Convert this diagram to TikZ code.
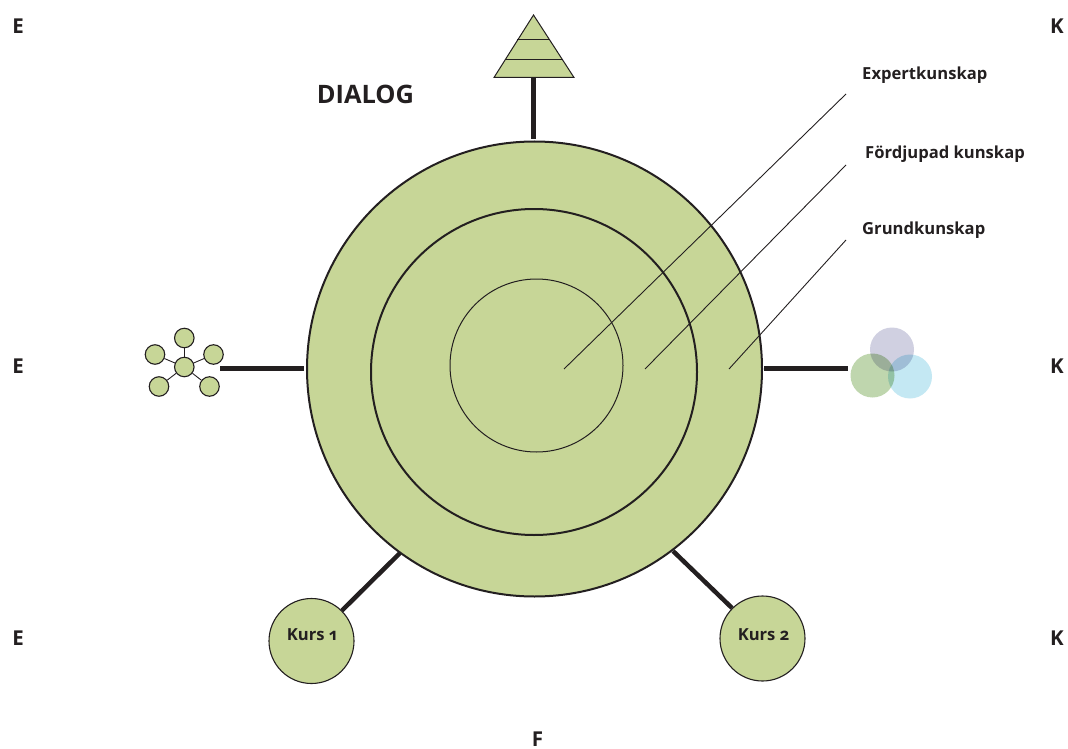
\documentclass[tikz,border=0pt]{standalone}
\usepackage{fontspec}
\setmainfont{Open Sans}[Numbers=OldStyle]
\definecolor{leaf}{HTML}{C7D697}
\definecolor{ink}{HTML}{231F20}
\definecolor{lilac}{HTML}{D0D0E1}
\definecolor{sage}{HTML}{BFD6AE}
\definecolor{sky}{HTML}{C4E8F3}
\tikzset{
  x=1pt,y=-1pt,
  ring/.style={circle,draw=ink,fill=leaf,inner sep=0pt,line width=#1},
  ring/.default=2pt,
  post/.style={draw=ink,line width=4.5pt},
  leader/.style={draw=ink,line width=0.9pt},
  thin link/.style={draw=ink,line width=0.9pt},
  minor/.style={ring=1.1pt,minimum size=19.5pt},
  blob/.style={circle,inner sep=0pt,minimum size=44pt,fill=#1},
  corner/.style={font=\bfseries\fontsize{20.5}{24}\selectfont,text=ink,inner sep=0pt},
  caption/.style={font=\bfseries\fontsize{16.6}{20}\selectfont,text=ink,inner sep=0pt,anchor=west},
  course/.style={ring=1.1pt,minimum size=85pt},
  courselabel/.style={text=ink,font=\bfseries\fontsize{16.6}{20}\selectfont,inner sep=0pt},
}
\begin{document}
\begin{tikzpicture}
\useasboundingbox (0,0) rectangle (1068,749);
% pyramid
\coordinate (apex) at (533.5,15);
\coordinate (baseL) at (494,77.5);
\coordinate (baseR) at (574,77.5);
\coordinate (postTop) at (533.5,78);
\coordinate (postBot) at (533.5,139);
\coordinate (tier1L) at (517,40); \coordinate (tier1R) at (549,40);
\coordinate (tier2L) at (505,60); \coordinate (tier2R) at (562,60);
\draw[fill=leaf,draw=ink,line width=1pt,line join=miter] (apex) -- (baseL) -- (baseR) -- cycle;
\draw[draw=ink,line width=1pt] (tier1L) -- (tier1R);
\draw[draw=ink,line width=1pt] (tier2L) -- (tier2R);
\draw[post] (postTop) -- (postBot);
% rings
\node[ring,minimum size=455pt] (outer) at (534.5,369) {};
\node[ring,minimum size=326pt] (middle) at (534,372) {};
\node[ring=1pt,minimum size=173pt] (inner) at (536.5,365.5) {};
% leaders
\coordinate (lead1a) at (564,369); \coordinate (lead1b) at (846,94);
\coordinate (lead2a) at (645,369); \coordinate (lead2b) at (846,165);
\coordinate (lead3a) at (729,369); \coordinate (lead3b) at (846,240);
\draw[leader] (lead1a) -- (lead1b);
\draw[leader] (lead2a) -- (lead2b);
\draw[leader] (lead3a) -- (lead3b);
\node[caption] (expert) at (862,75) {Expertkunskap};
\node[caption] (fordj) at (865,154) {Fördjupad kunskap};
\node[caption] (grund) at (862,230.5) {Grundkunskap};
% network cluster
\node[minor] (hub) at (184.3,367) {};
\node[minor] (n1) at (184.3,338) {};
\node[minor] (n2) at (155,354.5) {};
\node[minor] (n3) at (213.5,354.5) {};
\node[minor] (n4) at (159,386.5) {};
\node[minor] (n5) at (209.5,386.5) {};
\foreach \n in {n1,n2,n3,n4,n5} \draw[thin link] (hub) -- (\n);
\coordinate (leftA) at (220,368.5); \coordinate (leftB) at (304,368.5);
\draw[post] (leftA) -- (leftB);
% venn
\coordinate (rightA) at (764,368.5); \coordinate (rightB) at (848,368.5);
\draw[post] (rightA) -- (rightB);
\begin{scope}[blend group=multiply]
\node[blob=lilac] (v1) at (892,349.5) {};
\node[blob=sage] (v2) at (872.5,375.5) {};
\node[blob=sky] (v3) at (910,376.5) {};
\end{scope}
% courses
\node[course] (kurs1) at (311.5,641) {};
\node[courselabel] (k1label) at (312,635) {Kurs 1};
\node[course] (kurs2) at (762.5,638.5) {};
\node[courselabel] (k2label) at (763.5,634.5) {Kurs 2};
\coordinate (k1end) at (400,553); \coordinate (k2end) at (673,551);
\draw[post] (kurs1.45) -- (k1end);
\draw[post] (kurs2.135) -- (k2end);
% labels
\node[font=\bfseries\fontsize{25.4}{30}\selectfont,text=ink,inner sep=0pt] (dialog) at (365.5,94.5) {DIALOG};
\node[corner] (e1) at (18,26.5) {E};
\node[corner] (e2) at (18,366.5) {E};
\node[corner] (e3) at (18,638.5) {E};
\node[corner] (k1) at (1057,26.5) {K};
\node[corner] (k2) at (1057,366.5) {K};
\node[corner] (k3) at (1057,638.5) {K};
\node[corner] (f) at (537.5,739) {F};
\end{tikzpicture}
\end{document}
